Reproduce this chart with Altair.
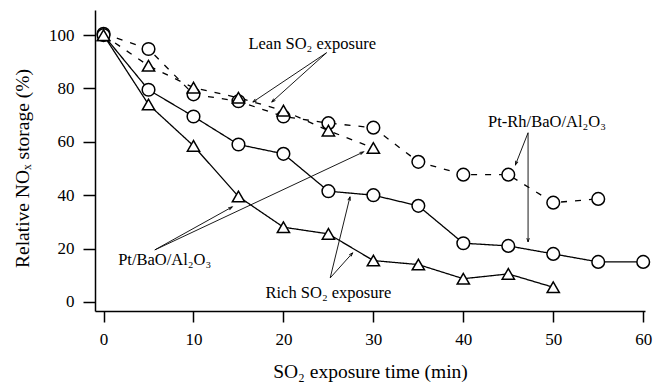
import math
import altair as alt
import pandas as pd

# ---- data ----
time_ptrh_rich = [0, 5, 10, 15, 20, 25, 30, 35, 40, 45, 50, 55, 60]
ptrh_rich = [100, 79.5, 69.5, 59, 55.5, 41.5, 40, 36, 22, 21, 18, 15, 15]

time_pt_rich = [0, 5, 10, 15, 20, 25, 30, 35, 40, 45, 50]
pt_rich = [100, 74, 58.5, 39.5, 28, 25.5, 15.5, 14, 8.7, 10.5, 5.5]

time_ptrh_lean = [0, 5, 10, 15, 20, 25, 30, 35, 40, 45, 50, 55]
ptrh_lean = [100.5, 94.8, 77.8, 75.2, 69.5, 67, 65.3, 52.5, 47.7, 47.7, 37.2, 38.6]

time_pt_lean = [0, 5, 10, 15, 20, 25, 30]
pt_lean = [100, 88.5, 80.3, 76.5, 71.7, 64.2, 57.7]

x_ticks = [0, 10, 20, 30, 40, 50, 60]
y_ticks = [0, 20, 40, 60, 80, 100]
x_domain = [-0.95, 60.2]
y_domain = [-3.4, 109.4]

# annotations (data coordinates)
ann_text = ["Lean SO₂ exposure", "Pt-Rh/BaO/Al₂O₃", "Pt/BaO/Al₂O₃", "Rich SO₂ exposure"]
ann_tx = [23.2, 49.3, 6.8, 25.0]
ann_ty = [96.6, 67.5, 15.7, 3.4]

arrow_x1 = [24.8, 24.8, 47.2, 47.2, 5.7, 5.7, 25.2, 25.2]
arrow_y1 = [93.4, 93.4, 63.4, 63.4, 19.5, 19.5, 9.0, 9.0]
arrow_x2 = [16.6, 18.7, 45.8, 47.2, 14.3, 28.9, 27.4, 27.7]
arrow_y2 = [74.9, 74.9, 51.4, 22.5, 35.6, 56.2, 39.4, 18.4]

W, H = 550, 301
FONT = "Times New Roman, Liberation Serif, serif"

x_scale = alt.Scale(domain=x_domain, nice=False, zero=False)
y_scale = alt.Scale(domain=y_domain, nice=False, zero=False)

def series(t, v):
    return pd.DataFrame({"t": t, "v": v})

def layer(df, dashed, shape):
    base = alt.Chart(df)
    line = base.mark_line(color="black", strokeWidth=1.3,
                          strokeDash=[6, 8] if dashed else [1, 0]).encode(
        x=alt.X("t:Q", scale=x_scale), y=alt.Y("v:Q", scale=y_scale))
    pts = base.mark_point(shape=shape, size=160 if shape == "circle" else 150,
                          filled=True, fill="white", stroke="black",
                          strokeWidth=1.5, opacity=1).encode(
        x=alt.X("t:Q", scale=x_scale), y=alt.Y("v:Q", scale=y_scale))
    return line, pts

l1, p1 = layer(series(time_ptrh_lean, ptrh_lean), True, "circle")
l2, p2 = layer(series(time_pt_lean, pt_lean), True, "triangle-up")
l3, p3 = layer(series(time_ptrh_rich, ptrh_rich), False, "circle")
l4, p4 = layer(series(time_pt_rich, pt_rich), False, "triangle-up")

# axes carrier
axes = alt.Chart(pd.DataFrame({"t": [0], "v": [0]})).mark_point(opacity=0).encode(
    x=alt.X("t:Q", scale=x_scale,
            axis=alt.Axis(title="SO₂ exposure time (min)", values=x_ticks, format="d",
                          tickSize=11, tickWidth=1.5, labelPadding=9,
                          labelFont=FONT, labelFontSize=17,
                          titleY=60, titleBaseline="middle")),
    y=alt.Y("v:Q", scale=y_scale,
            axis=alt.Axis(title="Relative NOₓ storage (%)", values=y_ticks, format="d",
                          tickSize=12, tickWidth=1.5, labelPadding=9,
                          labelFont=FONT, labelFontSize=17,
                          titleX=-73, titleY=158, titleAlign="center",
                          titleBaseline="middle", titleAngle=270)),
)

# arrows
sx = W / (x_domain[1] - x_domain[0])
sy = H / (y_domain[1] - y_domain[0])
angles = []
for a, b, c, d in zip(arrow_x1, arrow_y1, arrow_x2, arrow_y2):
    dx = (c - a) * sx
    dy = -(d - b) * sy
    angles.append(math.degrees(math.atan2(dx, -dy)) % 360)
arr_df = pd.DataFrame({"x1": arrow_x1, "y1": arrow_y1, "x2": arrow_x2,
                       "y2": arrow_y2, "ang": angles})
arrow_lines = alt.Chart(arr_df).mark_rule(color="black", strokeWidth=0.9).encode(
    x=alt.X("x1:Q", scale=x_scale), y=alt.Y("y1:Q", scale=y_scale),
    x2="x2:Q", y2="y2:Q")
arrow_heads = alt.Chart(arr_df).mark_point(
    shape="M -0.42 1.25 L 0 0 L 0.42 1.25", size=36, filled=False,
    stroke="black", strokeWidth=0.9, opacity=1).encode(
    x=alt.X("x2:Q", scale=x_scale), y=alt.Y("y2:Q", scale=y_scale),
    angle=alt.Angle("ang:Q", scale=None))

txt_df = pd.DataFrame({"x": ann_tx, "y": ann_ty, "label": ann_text})
texts = alt.Chart(txt_df).mark_text(font=FONT, fontSize=16.5, color="black",
                                    align="center", baseline="middle").encode(
    x=alt.X("x:Q", scale=x_scale), y=alt.Y("y:Q", scale=y_scale), text="label:N")

chart = alt.layer(axes, l1, l2, l3, l4, arrow_lines, arrow_heads,
                  p1, p2, p3, p4, texts).properties(
    width=W, height=H,
    autosize=alt.AutoSizeParams(type="none"),
    padding={"left": 95, "top": 10, "right": 9, "bottom": 76},
).configure(background="white").configure_view(stroke=None).configure_axis(
    grid=False, domainColor="black", domainWidth=1.5, tickColor="black",
    labelFont=FONT, labelFontSize=17, labelColor="black",
    titleFont=FONT, titleFontSize=19.5, titleFontWeight="normal", titleColor="black",
)

chart.save("out.html", embed_options={"renderer": "svg", "actions": False})
